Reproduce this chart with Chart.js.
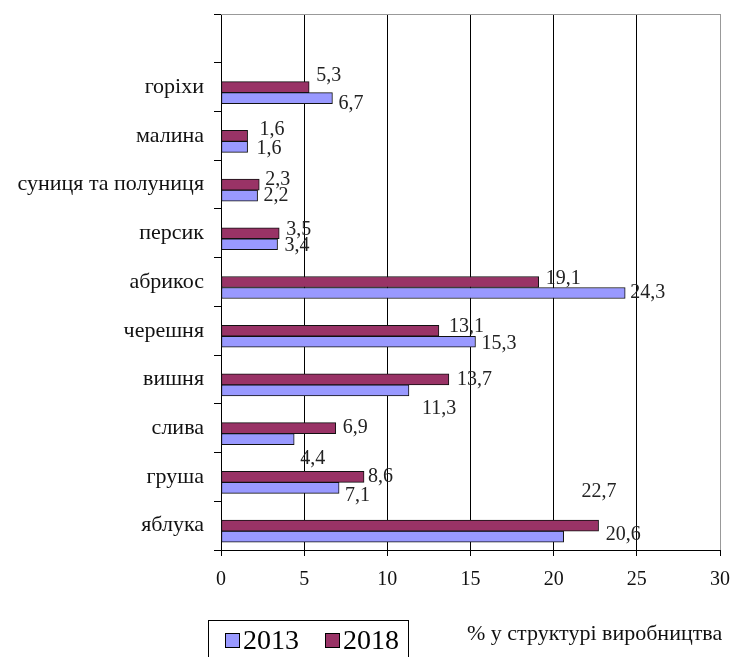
<!DOCTYPE html>
<html>
<head>
<meta charset="utf-8">
<script src="https://cdn.jsdelivr.net/npm/chart.js@4"></script>
<style>
  body { margin: 0; background: #fff; }
  #wrap { position: relative; width: 738px; height: 657px; }
  #legend {
    position: absolute; left: 208px; top: 620px; width: 201px; height: 50px;
    border: 1px solid #000; box-sizing: border-box;
    font: 28px "Liberation Serif", serif; color: #000;
    display: flex; align-items: flex-start; padding: 4px 0 0 16px;
  }
  #legend .item { display: flex; align-items: center; margin-right: 26px; line-height: 30px; }
  #legend .sw { width: 13px; height: 13px; border: 1px solid #000; margin-right: 3px; }
  #axisTitle {
    position: absolute; left: 467px; top: 620px;
    font: 22px "Liberation Serif", serif; color: #111; white-space: nowrap;
  }
</style>
</head>
<body>
<div id="wrap">
  <canvas id="chart" width="738" height="657"></canvas>
  <div id="legend"></div>
  <div id="axisTitle">% у структурі виробництва</div>
</div>
<script>
const categories = ["горіхи", "малина", "суниця та полуниця", "персик", "абрикос",
                    "черешня", "вишня", "слива", "груша", "яблука"];
const values2013 = [6.7, 1.6, 2.2, 3.4, 24.3, 15.3, 11.3, 4.4, 7.1, 20.6];
const values2018 = [5.3, 1.6, 2.3, 3.5, 19.1, 13.1, 13.7, 6.9, 8.6, 22.7];
const xTicks = [0, 5, 10, 15, 20, 25, 30];

const color2013 = "#9999ff";
const color2018 = "#993366";

// label nudges (px) so the numbers sit where they were placed in the original
const dx2018 = [7, 12, 6, 7, 7, 10, 8, 7, 4, -17];
const dy2018 = [-11, -6, -5, -4, -3, -4, 0, 0, 0, -34];
const dx2013 = [6, 9, 6, 7, 5, 6, 13, 6, 6, 42];
const dy2013 = [6, 2, 0, 1, 0, 2, 18, 20, 8, -2];

const labels = [""].concat(categories);
const pad = arr => [null].concat(arr);

const valueLabels = {
  id: "valueLabels",
  afterDatasetsDraw(chart) {
    const ctx = chart.ctx;
    ctx.save();
    ctx.font = '20px "Liberation Serif"';
    ctx.fillStyle = "#222";
    ctx.textAlign = "left";
    ctx.textBaseline = "middle";
    [[1, dx2018, dy2018], [2, dx2013, dy2013]].forEach(([di, dx, dy]) => {
      const ds = chart.data.datasets[di].data;
      chart.getDatasetMeta(di).data.forEach((bar, i) => {
        if (ds[i] == null) return;
        ctx.fillText(String(ds[i]).replace(".", ","), bar.x + dx[i - 1], bar.y + dy[i - 1]);
      });
    });
    ctx.restore();
  }
};

const topBorder = {
  id: "topBorder",
  beforeDatasetsDraw(chart) {
    const { ctx, chartArea } = chart;
    ctx.save();
    ctx.strokeStyle = "#999";
    ctx.lineWidth = 1;
    ctx.beginPath();
    ctx.moveTo(chartArea.left, chartArea.top + 0.5);
    ctx.lineTo(chartArea.right, chartArea.top + 0.5);
    ctx.stroke();
    ctx.restore();
  }
};

const chart = new Chart(document.getElementById("chart"), {
  type: "bar",
  data: {
    labels: labels,
    datasets: [
      { label: "", data: pad(categories.map(() => null)) },
      { label: "2018", data: pad(values2018), backgroundColor: color2018 },
      { label: "2013", data: pad(values2013), backgroundColor: color2013 }
    ]
  },
  options: {
    indexAxis: "y",
    responsive: false,
    animation: false,
    events: [],
    layout: { padding: { top: 14, right: 18, left: 0, bottom: 0 } },
    datasets: {
      bar: { barThickness: 11, borderWidth: 1, borderColor: "#111", borderSkipped: false }
    },
    plugins: { legend: { display: false }, tooltip: { enabled: false } },
    scales: {
      x: {
        min: 0, max: 30,
        afterFit(scale) { scale.height = 107; scale.paddingLeft = 0; scale.paddingRight = 0; },
        afterBuildTicks(scale) { scale.ticks = xTicks.map(v => ({ value: v })); },
        border: { color: "#000", width: 1 },
        grid: {
          color: c => (c.tick && c.tick.value === 30 ? "#999" : "#000"),
          tickColor: "#000",
          tickLength: 6
        },
        ticks: {
          padding: 12,
          color: "#111",
          font: { family: "Liberation Serif", size: 20 }
        }
      },
      y: {
        afterFit(scale) { scale.width = 221; scale.paddingTop = 0; scale.paddingBottom = 0; },
        border: { color: "#000", width: 1 },
        grid: { offset: true, drawOnChartArea: false, tickColor: "#000", tickLength: 7 },
        ticks: {
          padding: 10,
          color: "#111",
          font: { family: "Liberation Serif", size: 22 }
        }
      }
    }
  },
  plugins: [topBorder, valueLabels]
});

// legend: 2013 first, as in the original
const legend = document.getElementById("legend");
[2, 1].forEach(di => {
  const ds = chart.data.datasets[di];
  const item = document.createElement("div");
  item.className = "item";
  item.innerHTML = '<span class="sw" style="background:' + ds.backgroundColor + '"></span>' + ds.label;
  legend.appendChild(item);
});
</script>
</body>
</html>
